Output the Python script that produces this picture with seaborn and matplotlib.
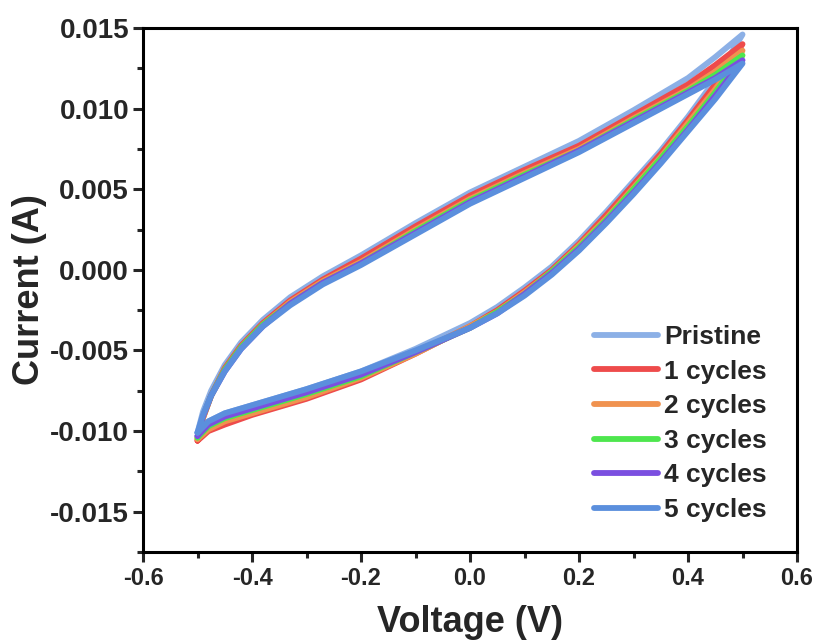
import numpy as np
import pandas as pd
import matplotlib
matplotlib.use("Agg")
import matplotlib.pyplot as plt
from matplotlib.lines import Line2D
from matplotlib.ticker import MultipleLocator, FormatStrFormatter
import seaborn as sns

# Potential grids for the anodic (forward) and cathodic (reverse) sweeps, V
voltage_forward = [-0.5, -0.49, -0.475, -0.45, -0.42, -0.38, -0.33, -0.27, -0.2, -0.1,
                   0.0, 0.1, 0.2, 0.3, 0.4, 0.45, 0.5]
voltage_reverse = [0.5, 0.45, 0.4, 0.35, 0.3, 0.25, 0.2, 0.15, 0.1, 0.05,
                   0.0, -0.1, -0.2, -0.3, -0.4, -0.45, -0.48, -0.5]

scan_labels = ["Pristine", "1 cycles", "2 cycles", "3 cycles", "4 cycles", "5 cycles"]

# Current on the forward sweep, A
pristine_fwd = [-0.0101, -0.0088, -0.0075, -0.0059, -0.0045, -0.0031, -0.0017, -0.0004, 0.0009, 0.0029,
                0.0048, 0.0064, 0.0080, 0.0099, 0.0119, 0.0132, 0.0146]
cycle1_fwd   = [-0.0106, -0.0092, -0.0078, -0.0061, -0.0047, -0.0033, -0.0019, -0.0006, 0.0007, 0.0027,
                0.0046, 0.0062, 0.0077, 0.0096, 0.0115, 0.0127, 0.0140]
cycle2_fwd   = [-0.0105, -0.0092, -0.0078, -0.0062, -0.0048, -0.0034, -0.0020, -0.0007, 0.0005, 0.0025,
                0.0044, 0.0060, 0.0075, 0.0094, 0.0112, 0.0123, 0.0136]
cycle3_fwd   = [-0.0104, -0.0091, -0.0078, -0.0062, -0.0048, -0.0034, -0.0021, -0.0008, 0.0004, 0.0024,
                0.0043, 0.0059, 0.0074, 0.0093, 0.0111, 0.0121, 0.0133]
cycle4_fwd   = [-0.0103, -0.0091, -0.0078, -0.0063, -0.0049, -0.0035, -0.0021, -0.0008, 0.0004, 0.0023,
                0.0042, 0.0058, 0.0074, 0.0092, 0.0110, 0.0119, 0.0130]
cycle5_fwd   = [-0.0101, -0.0090, -0.0078, -0.0063, -0.0049, -0.0035, -0.0022, -0.0009, 0.0003, 0.0022,
                0.0041, 0.0057, 0.0073, 0.0091, 0.0109, 0.0118, 0.0128]

# Current on the reverse sweep, A
pristine_rev = [0.0146, 0.0118, 0.0095, 0.0074, 0.0055, 0.0036, 0.0018, 0.0002, -0.0011, -0.0023,
                -0.0033, -0.0049, -0.0063, -0.0074, -0.0084, -0.0089, -0.0094, -0.0101]
cycle1_rev   = [0.0140, 0.0115, 0.0093, 0.0072, 0.0053, 0.0034, 0.0016, 0.0000, -0.0013, -0.0025,
                -0.0035, -0.0052, -0.0068, -0.0080, -0.0090, -0.0096, -0.0100, -0.0106]
cycle2_rev   = [0.0136, 0.0112, 0.0091, 0.0070, 0.0051, 0.0032, 0.0015, -0.0001, -0.0014, -0.0026,
                -0.0035, -0.0052, -0.0067, -0.0079, -0.0089, -0.0094, -0.0099, -0.0105]
cycle3_rev   = [0.0133, 0.0110, 0.0089, 0.0069, 0.0050, 0.0031, 0.0014, -0.0001, -0.0015, -0.0026,
                -0.0036, -0.0051, -0.0066, -0.0077, -0.0087, -0.0092, -0.0097, -0.0104]
cycle4_rev   = [0.0130, 0.0108, 0.0087, 0.0067, 0.0048, 0.0030, 0.0013, -0.0002, -0.0015, -0.0027,
                -0.0036, -0.0051, -0.0065, -0.0076, -0.0086, -0.0091, -0.0096, -0.0103]
cycle5_rev   = [0.0128, 0.0106, 0.0086, 0.0066, 0.0047, 0.0029, 0.0012, -0.0003, -0.0016, -0.0027,
                -0.0036, -0.0050, -0.0063, -0.0074, -0.0084, -0.0089, -0.0094, -0.0101]

forward = [pristine_fwd, cycle1_fwd, cycle2_fwd, cycle3_fwd, cycle4_fwd, cycle5_fwd]
reverse = [pristine_rev, cycle1_rev, cycle2_rev, cycle3_rev, cycle4_rev, cycle5_rev]

colors = ["#8cb0e6", "#ee4b4b", "#f0924f", "#4ee64e", "#7b4fe0", "#5b8fdd"]

rows = []
for label, fwd, rev in zip(scan_labels, forward, reverse):
    v = voltage_forward + voltage_reverse
    i = fwd + rev
    for step, (vv, ii) in enumerate(zip(v, i)):
        rows.append({"Scan": label, "Step": step, "Voltage": vv, "Current": ii})
df = pd.DataFrame(rows)

sns.set_style("ticks")
plt.rcParams["font.family"] = ["Liberation Sans", "DejaVu Sans"]
plt.rcParams["font.weight"] = "bold"
plt.rcParams["axes.unicode_minus"] = False

fig = plt.figure(figsize=(8.2, 6.44), dpi=100)
ax = fig.add_axes([0.1744, 0.1429, 0.7976, 0.8136])

palette = dict(zip(scan_labels, colors))
sns.lineplot(data=df, x="Voltage", y="Current", hue="Scan", hue_order=scan_labels,
             palette=palette, sort=False, estimator=None, units="Scan",
             linewidth=4.2, legend=False, ax=ax)
for ln in ax.get_lines():
    ln.set_solid_joinstyle("round")
    ln.set_solid_capstyle("round")

ax.set_xlim(-0.6, 0.6)
ax.set_ylim(-0.0175, 0.015)
ax.xaxis.set_major_locator(MultipleLocator(0.2))
ax.xaxis.set_minor_locator(MultipleLocator(0.1))
ax.yaxis.set_major_locator(MultipleLocator(0.005))
ax.yaxis.set_minor_locator(MultipleLocator(0.0025))
ax.xaxis.set_major_formatter(FormatStrFormatter("%.1f"))
ax.yaxis.set_major_formatter(FormatStrFormatter("%.3f"))

for side in ["left", "right", "top", "bottom"]:
    ax.spines[side].set_linewidth(2.2)
    ax.spines[side].set_color("black")

ax.tick_params(axis="both", which="major", direction="out", length=7, width=2.2,
               top=False, right=False)
ax.tick_params(axis="x", which="major", labelsize=17)
ax.tick_params(axis="y", which="major", labelsize=20, pad=3)
ax.tick_params(axis="both", which="minor", direction="out", length=4, width=2.2,
               top=False, right=False)
for lab in ax.get_xticklabels() + ax.get_yticklabels():
    lab.set_fontweight("bold")

ax.set_xlabel("Voltage (V)", fontsize=26, fontweight="bold", labelpad=11)
ax.set_ylabel("Current (A)", fontsize=26, fontweight="bold", labelpad=2)

handles = [Line2D([0], [0], color=c, lw=4.2, solid_capstyle="round") for c in colors]
ax.legend(handles, scan_labels, loc="lower right", bbox_to_anchor=(0.99, 0.012),
          frameon=False, prop={"size": 19, "weight": "bold"},
          handlelength=2.45, handletextpad=0.22, labelspacing=0.40)

fig.savefig("out.png", dpi=100)
